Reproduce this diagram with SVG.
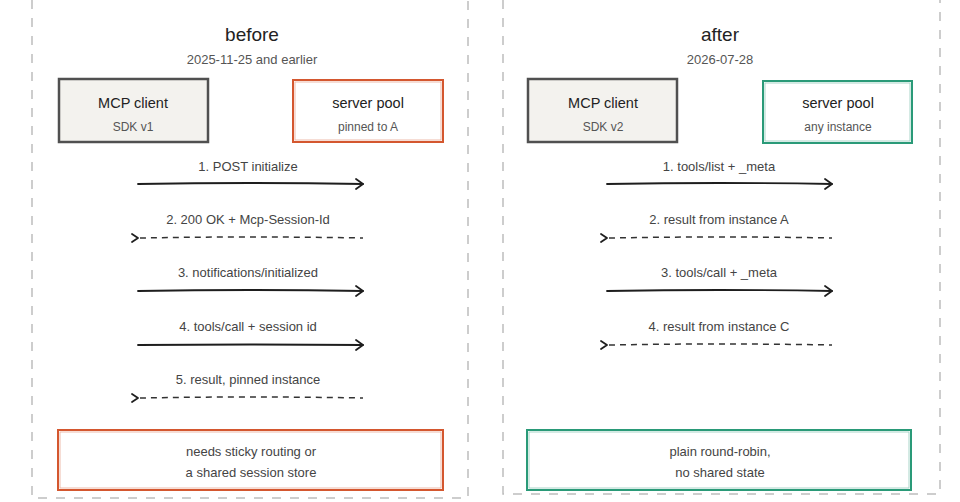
<svg xmlns="http://www.w3.org/2000/svg" width="960" height="502" viewBox="0 0 960 502">
<style>
text{font-family:"Liberation Sans",Arial,sans-serif;fill:#333;text-anchor:middle}
.title{font-size:19px;fill:#222}
.sub{font-size:13px;fill:#555}
.lbl{font-size:14.5px;fill:#222}
.small{font-size:12px;fill:#555}
.msg{font-size:13px;fill:#444}
.panel{fill:none;stroke:#bdbdbd;stroke-width:1.5;stroke-dasharray:9 9}
.client{fill:#f3f2ee;stroke:#505050;stroke-width:2.5}
.orange{fill:#fff;stroke:#d4572f;stroke-width:2}
.green{fill:#fff;stroke:#2a9a78;stroke-width:2}
.solid{fill:none;stroke:#1e1e1e;stroke-width:1.8;stroke-linecap:round;stroke-linejoin:round}
.dash{fill:none;stroke:#333;stroke-width:1.5;stroke-dasharray:6 5}
.head{fill:none;stroke:#1e1e1e;stroke-width:1.8;stroke-linecap:round;stroke-linejoin:round}
</style>
<g id="panel-before">
<path class="panel" d="M32,0 V498 H468 V0"/>
<text class="title" x="252" y="41">before</text>
<text class="sub" x="252" y="64">2025-11-25 and earlier</text>
</g>
<g id="panel-after">
<path class="panel" d="M503,0 V494 H940 V0"/>
<text class="title" x="720" y="41">after</text>
<text class="sub" x="720" y="64">2026-07-28</text>
</g>
<g id="client-v1">
<rect class="client" x="59" y="79" width="149" height="63"/>
<text class="lbl" x="133" y="108">MCP client</text>
<text class="small" x="133" y="131">SDK v1</text>
</g>
<g id="pool-before">
<rect class="orange" x="293" y="80" width="150" height="62"/>
<rect x="295" y="82" width="146" height="58" fill="none" stroke="#d4572f" stroke-width="0.8" opacity="0.5"/>
<text class="lbl" x="368" y="108">server pool</text>
<text class="small" x="368" y="131">pinned to A</text>
</g>
<g id="note-before">
<rect class="orange" x="58" y="430" width="385" height="60"/>
<rect x="60" y="432" width="381" height="56" fill="none" stroke="#d4572f" stroke-width="0.8" opacity="0.5"/>
<text class="msg" x="251" y="456">needs sticky routing or</text>
<text class="msg" x="251" y="477">a shared session store</text>
</g>
<g id="client-v2">
<rect class="client" x="528" y="79" width="149" height="63"/>
<text class="lbl" x="603" y="108">MCP client</text>
<text class="small" x="603" y="131">SDK v2</text>
</g>
<g id="pool-after">
<rect class="green" x="763" y="81" width="149" height="62"/>
<rect x="765" y="83" width="145" height="58" fill="none" stroke="#2a9a78" stroke-width="0.8" opacity="0.5"/>
<text class="lbl" x="838" y="108">server pool</text>
<text class="small" x="838" y="131">any instance</text>
</g>
<g id="note-after">
<rect class="green" x="527" y="430" width="384" height="60"/>
<rect x="529" y="432" width="380" height="56" fill="none" stroke="#2a9a78" stroke-width="0.8" opacity="0.5"/>
<text class="msg" x="720" y="456">plain round-robin,</text>
<text class="msg" x="720" y="477">no shared state</text>
</g>
<g id="connectors">
<text class="msg" x="248" y="171">1. POST initialize</text>
<path class="solid" d="M138,184 Q250,182 363,184"/>
<path class="head" d="M356,179 L363,184 L356,189"/>
<text class="msg" x="248" y="224">2. 200 OK + Mcp-Session-Id</text>
<path class="dash" d="M140,238 Q250,236 363,238"/>
<path class="head" d="M132,234 L138,238 L132,242"/>
<text class="msg" x="248" y="277">3. notifications/initialized</text>
<path class="solid" d="M138,291 Q250,289 363,291"/>
<path class="head" d="M356,286 L363,291 L356,296"/>
<text class="msg" x="248" y="331">4. tools/call + session id</text>
<path class="solid" d="M138,345 Q250,344 363,345"/>
<path class="head" d="M356,340 L363,345 L356,350"/>
<text class="msg" x="248" y="384">5. result, pinned instance</text>
<path class="dash" d="M140,398 Q250,396 363,398"/>
<path class="head" d="M132,394 L138,398 L132,402"/>
<text class="msg" x="719" y="171">1. tools/list + _meta</text>
<path class="solid" d="M607,184 Q720,182 832,184"/>
<path class="head" d="M825,179 L832,184 L825,189"/>
<text class="msg" x="719" y="224">2. result from instance A</text>
<path class="dash" d="M609,238 Q720,236 832,238"/>
<path class="head" d="M601,234 L607,238 L601,242"/>
<text class="msg" x="719" y="277">3. tools/call + _meta</text>
<path class="solid" d="M607,291 Q720,289 832,291"/>
<path class="head" d="M825,286 L832,291 L825,296"/>
<text class="msg" x="719" y="331">4. result from instance C</text>
<path class="dash" d="M609,345 Q720,343 832,345"/>
<path class="head" d="M601,341 L607,345 L601,349"/>
</g>
</svg>
